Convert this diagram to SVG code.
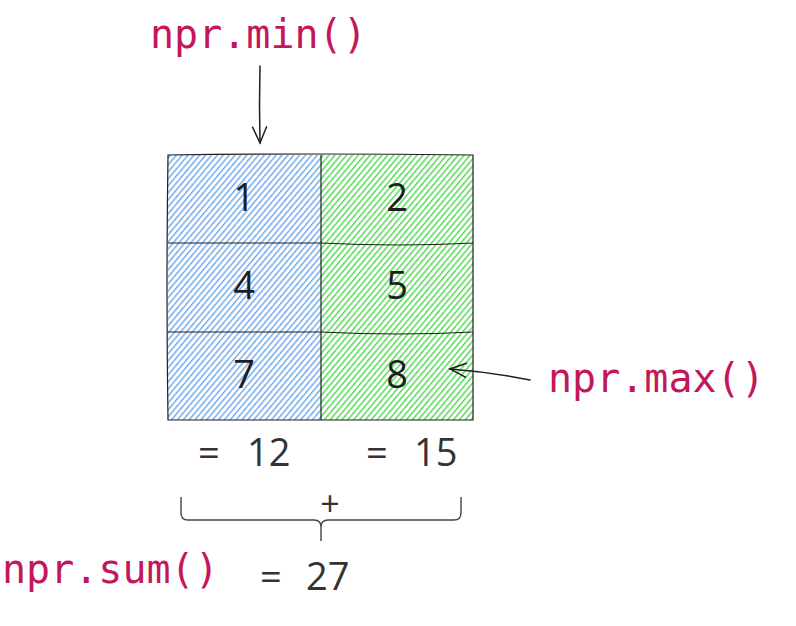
<svg xmlns="http://www.w3.org/2000/svg" width="796" height="626" viewBox="0 0 796 626">
<defs>
<pattern id="hb" patternUnits="userSpaceOnUse" width="4.5" height="4.5" patternTransform="rotate(40)">
<rect width="4.5" height="4.5" fill="#ffffff"/>
<line x1="0.7" y1="0" x2="0.7" y2="4.5" stroke="#62a0ea" stroke-width="1.3"/>
</pattern>
<pattern id="hg" patternUnits="userSpaceOnUse" width="4.5" height="4.5" patternTransform="rotate(40)">
<rect width="4.5" height="4.5" fill="#ffffff"/>
<line x1="0.7" y1="0" x2="0.7" y2="4.5" stroke="#4cd84c" stroke-width="1.4"/>
</pattern>
<marker id="ah" viewBox="0 0 20 20" refX="18" refY="10" markerWidth="20" markerHeight="20" markerUnits="userSpaceOnUse" orient="auto">
<path d="M2,3 L18,10 L2,17" fill="none" stroke="#1e1e1e" stroke-width="1.5" stroke-linecap="round"/>
</marker>
</defs>
<style>
.code{font-family:"DejaVu Sans Mono",monospace;font-size:40px;fill:#c2185b}
.num{font-family:"Open Sans","Noto Sans",sans-serif;font-size:38px;fill:#1e1e1e;text-anchor:middle}
.res{font-family:"Open Sans","Noto Sans",sans-serif;font-size:38px;fill:#333333}
.cellline{stroke:#1e1e1e;stroke-width:1.2;fill:none}
.conn{stroke:#1e1e1e;stroke-width:1.5;fill:none;stroke-linecap:round}
</style>
<g id="grid">
<g id="cell1"><rect x="168" y="155" width="153" height="88" fill="url(#hb)"/><text class="num" x="244" y="211">1</text></g>
<g id="cell2"><rect x="321" y="155" width="152" height="88" fill="url(#hg)"/><text class="num" x="397" y="211">2</text></g>
<g id="cell4"><rect x="168" y="243" width="153" height="89" fill="url(#hb)"/><text class="num" x="244" y="299">4</text></g>
<g id="cell5"><rect x="321" y="243" width="152" height="89" fill="url(#hg)"/><text class="num" x="397" y="299">5</text></g>
<g id="cell7"><rect x="168" y="332" width="153" height="88" fill="url(#hb)"/><text class="num" x="244" y="388">7</text></g>
<g id="cell8"><rect x="321" y="332" width="152" height="88" fill="url(#hg)"/><text class="num" x="397" y="388">8</text></g>
<path class="cellline" d="M168,155 Q320,153 473,155 L473,420 L168,420 Q166,290 168,155 Z"/>
<path class="cellline" d="M321,155 L321,420"/>
<path class="cellline" d="M168,243 L321,243 Q400,247 473,243"/>
<path class="cellline" d="M168,332 L321,332 Q400,336 473,332"/>
</g>
<g id="label-min"><text class="code" x="150" y="48">npr.min()</text></g>
<g id="label-max"><text class="code" x="548" y="392">npr.max()</text></g>
<g id="label-sum"><text class="code" x="2" y="583">npr.sum()</text></g>
<g id="sum12"><text class="res" x="198" y="466">=</text><text class="res" x="247" y="466">12</text></g>
<g id="sum15"><text class="res" x="366" y="466">=</text><text class="res" x="414" y="466">15</text></g>
<g id="total"><text class="res" x="260" y="590">=</text><text class="res" x="306" y="590">27</text></g>
<g id="plus"><text class="res" x="330" y="516" text-anchor="middle" style="font-size:34px">+</text></g>
<g id="connectors">
<path class="conn" d="M260,66 Q259,105 260,143" marker-end="url(#ah)"/>
<path class="conn" d="M530,380 Q490,372 450,369" marker-end="url(#ah)"/>
<path d="M181,497 L181,513 Q181,520 188,520 L314,520 Q321,520 321,527 Q321,520 328,520 L454,520 Q461,520 461,513 L461,497 M321,527 L321,541" stroke="#444" stroke-width="1.4" fill="none"/>
</g>
</svg>
